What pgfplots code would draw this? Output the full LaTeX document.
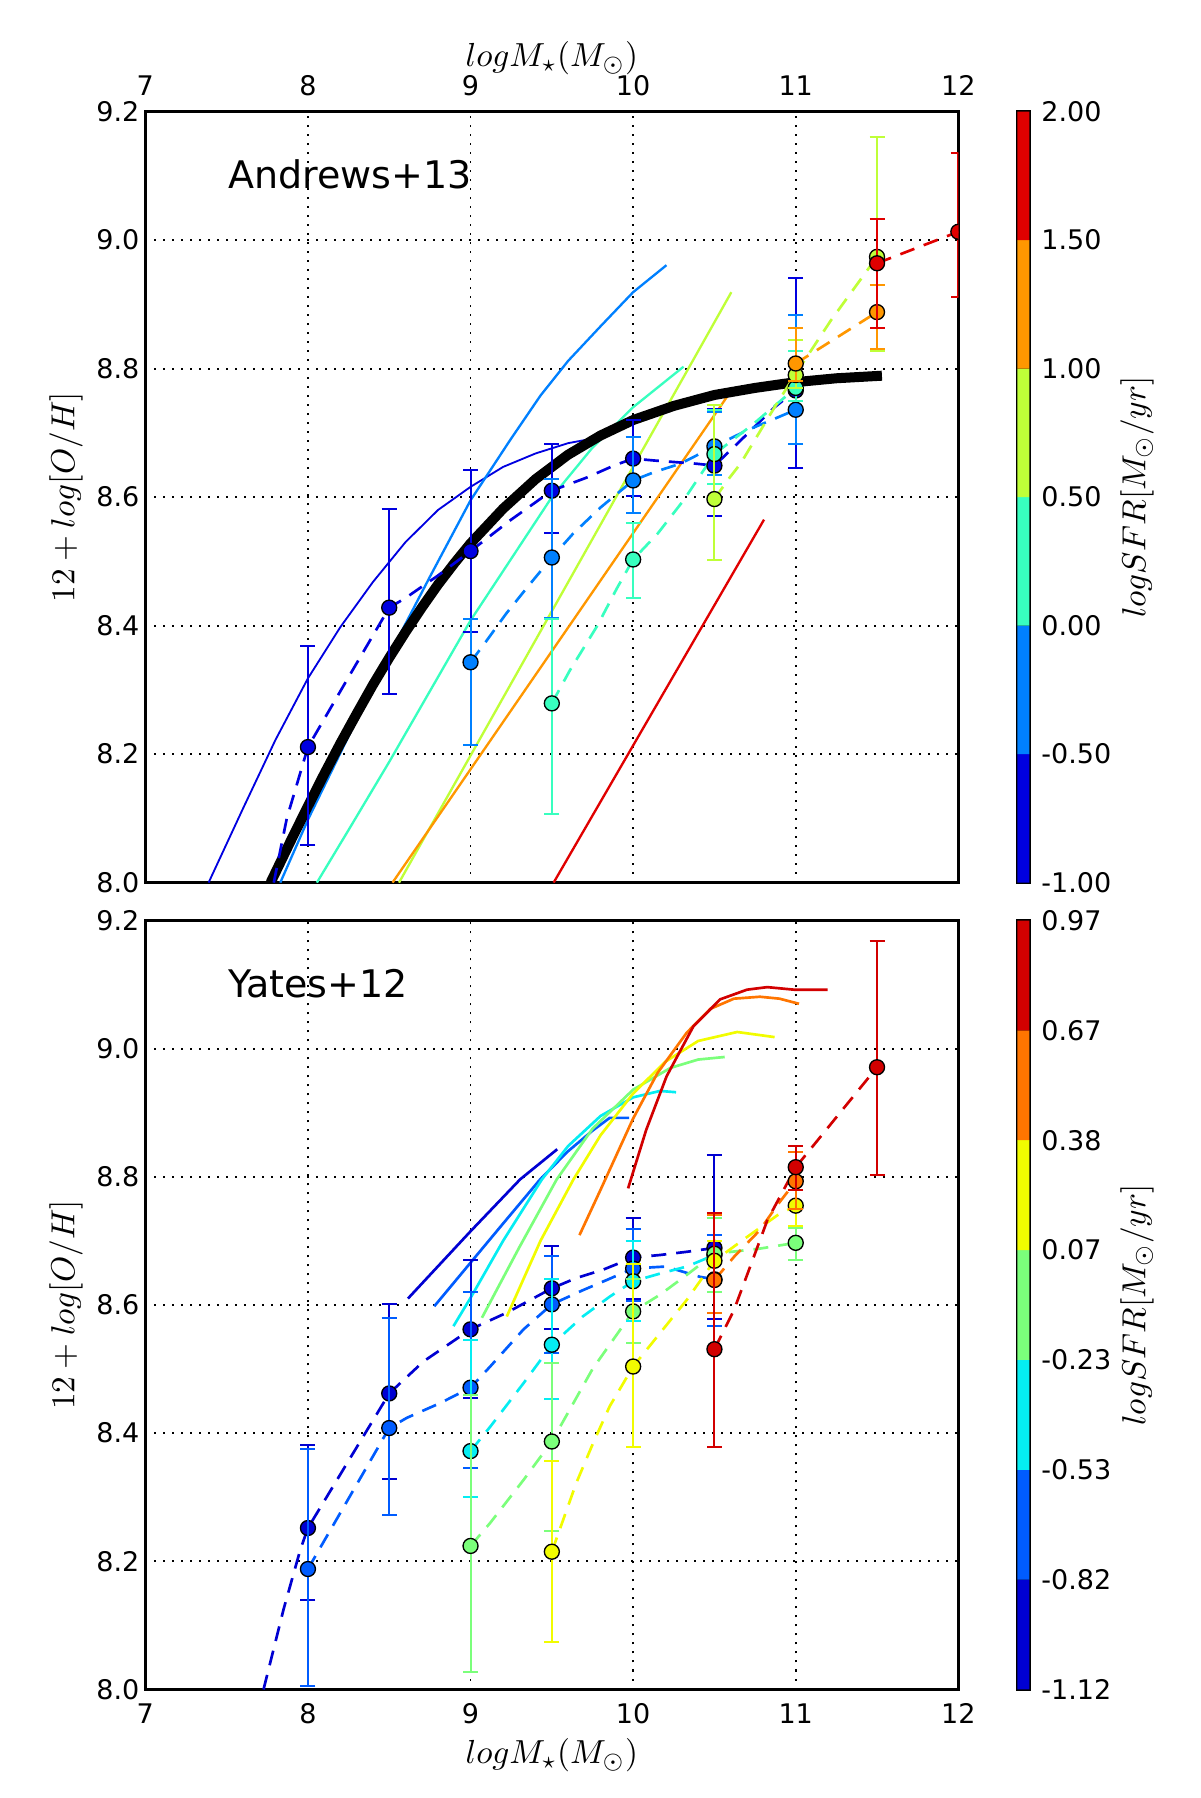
\documentclass[border=0pt]{standalone}
\usepackage[no-math]{fontspec}
\setmainfont{DejaVu Sans}
\usepackage{pgfplots}
\pgfplotsset{compat=1.18}
\definecolor{T1}{RGB}{0,0,224}
\definecolor{T2}{RGB}{0,128,255}
\definecolor{T3}{RGB}{56,255,191}
\definecolor{T4}{RGB}{191,255,56}
\definecolor{T5}{RGB}{255,151,0}
\definecolor{T6}{RGB}{224,0,0}
\definecolor{B1}{RGB}{0,0,210}
\definecolor{B2}{RGB}{0,92,255}
\definecolor{B3}{RGB}{5,237,242}
\definecolor{B4}{RGB}{123,255,123}
\definecolor{B5}{RGB}{241,252,0}
\definecolor{B6}{RGB}{255,117,0}
\definecolor{B7}{RGB}{210,0,0}
\pgfplotsset{
  mainax/.style={
    scale only axis, width=243.9pt,
    xmin=7, xmax=12, ymin=8, ymax=9.2,
    xtick={7,8,9,10,11,12}, ytick={8,8.2,8.4,8.6,8.8,9.0,9.2},
    yticklabel style={/pgf/number format/.cd, fixed, fixed zerofill, precision=1},
    /pgf/number format/assume math mode=true,
    tick label style={font=\fontsize{8.1}{9.7}\selectfont, inner sep=0pt},
    yticklabel shift=1.6pt,
    tick style={draw=none},
    xmajorgrids, ymajorgrids,
    grid style={black, line width=0.55pt, dash pattern=on 0.6pt off 2.1pt},
    axis line style={black, line width=0.75pt},
    clip marker paths=true,
    label style={font=\fontsize{8.8}{10.5}\selectfont},
    every axis y label/.style={at={(axis description cs:-0.0976,0.5)}, rotate=90, anchor=center},
    ylabel={$12+log[O/H]$},
  },
  cbax/.style={
    scale only axis, width=3.6pt,
    xmin=0, xmax=1, xtick=\empty,
    ytick pos=right, yticklabel pos=right,
    /pgf/number format/assume math mode=true,
    tick label style={font=\fontsize{8.1}{9.7}\selectfont, inner sep=0pt},
    yticklabel shift=3.4pt,
    major tick length=3.6pt, tick align=inside,
    tick style={black, line width=0.6pt},
    axis line style={black, line width=0.75pt},
    label style={font=\fontsize{8.8}{10.5}\selectfont},
    every axis y label/.style={at={(axis description cs:9.97,0.5)}, rotate=90, anchor=center},
    ylabel={$logSFR[M_\odot/yr]$},
  },
  sld/.style={#1, line width=0.7pt, no marks, solid},
  dsh/.style={#1, line width=0.8pt, no marks, dash pattern=on 4.5pt off 3pt},
  pts/.style={#1, only marks, mark=*, mark size=2.25pt,
    mark options={fill=#1, draw=black, line width=0.4pt, solid},
    error bars/.cd, y dir=both, y explicit,
    error bar style={#1, line width=0.6pt, solid},
    error mark options={rotate=90, #1, mark size=2.25pt, line width=0.6pt, solid}},
}
\begin{document}
\begin{tikzpicture}
\path[use as bounding box] (0pt,0pt) rectangle (360pt,539.4pt);

% ================= TOP PANEL =================
\begin{axis}[mainax, at={(43.6pt,274.6pt)}, anchor=south west, height=231.3pt,
  xticklabel pos=upper, xticklabel shift=4.5pt,
  every axis x label/.style={at={(axis description cs:0.5,1.0695)}, anchor=center},
  xlabel={$logM_\star(M_\odot)$}]
% model lines
\addplot[sld=T1, line width=0.55pt] coordinates {(7.389,8.0) (7.6,8.115) (7.8,8.222) (8.0,8.318) (8.2,8.398) (8.4,8.468) (8.6,8.53) (8.8,8.58) (9.0,8.616) (9.2,8.647) (9.4,8.668) (9.6,8.684) (9.706,8.689)};
\addplot[sld=T2] coordinates {(7.83,8.0) (8.0,8.098) (8.25,8.228) (8.5,8.354) (8.75,8.476) (9.0,8.595) (9.244,8.689) (9.43,8.758) (9.6,8.812) (9.8,8.866) (10.0,8.919) (10.205,8.961)};
\addplot[sld=T3] coordinates {(8.055,8.0) (8.25,8.082) (8.5,8.188) (9.0,8.408) (9.5,8.6) (9.75,8.677) (10.0,8.74) (10.31,8.803)};
\addplot[sld=T4] coordinates {(8.56,8.0) (9.55,8.445) (10.604,8.919)};
\addplot[sld=T5] coordinates {(8.52,8.0) (10.604,8.766)};
\addplot[sld=T6] coordinates {(9.511,8.0) (10.805,8.565)};
% thick black relation
\addplot[black, line width=3pt, no marks] coordinates {(7.77,8.0) (7.9,8.068) (8.0,8.119) (8.1,8.169) (8.2,8.217) (8.3,8.263) (8.4,8.308) (8.5,8.350) (8.6,8.390) (8.7,8.428) (8.8,8.464) (8.9,8.497) (9.0,8.528) (9.2,8.582) (9.4,8.628) (9.6,8.666) (9.8,8.696) (10.0,8.720) (10.25,8.742) (10.5,8.759) (10.75,8.770) (11.0,8.779) (11.25,8.785) (11.53,8.789)};
% dashed binned relations
\addplot[dsh=T1] coordinates {(7.79,8.0) (7.87,8.10) (8.0,8.211) (8.25,8.32) (8.5,8.428) (8.6,8.443) (8.8,8.478) (9.0,8.516) (9.25,8.565) (9.5,8.61) (9.72,8.631) (9.88,8.649) (10.0,8.66) (10.13,8.657) (10.39,8.652) (10.5,8.649) (10.66,8.688) (10.87,8.74) (11.0,8.766)};
\addplot[dsh=T2] coordinates {(9.0,8.343) (9.1,8.377) (9.22,8.419) (9.35,8.46) (9.5,8.506) (9.63,8.543) (9.8,8.584) (10.0,8.626) (10.13,8.639) (10.29,8.652) (10.5,8.679) (10.7,8.704) (10.87,8.722) (11.0,8.736)};
\addplot[dsh=T3] coordinates {(9.5,8.279) (9.61,8.33) (9.78,8.4) (9.9,8.458) (10.0,8.503) (10.15,8.543) (10.31,8.595) (10.5,8.667) (10.74,8.714) (11.0,8.77)};
\addplot[dsh=T4] coordinates {(10.5,8.597) (10.58,8.626) (10.66,8.652) (10.87,8.74) (11.0,8.792) (11.216,8.875) (11.5,8.974)};
\addplot[dsh=T5] coordinates {(11.0,8.808) (11.5,8.888)};
\addplot[dsh=T6] coordinates {(11.5,8.964) (12.0,9.013)};
% data points
\addplot[pts=T1] coordinates {(8,8.211) += (0,0.157) -= (0,0.153) (8.5,8.428) += (0,0.153) -= (0,0.135) (9,8.516) += (0,0.126) -= (0,0.126) (9.5,8.61) += (0,0.073) -= (0,0.066) (10,8.66) += (0,0.06) -= (0,0.058) (10.5,8.649) += (0,0.088) -= (0,0.078) (11,8.766) += (0,0.175) -= (0,0.121)};
\addplot[pts=T2] coordinates {(9,8.343) += (0,0.067) -= (0,0.129) (9.5,8.506) += (0,0.123) -= (0,0.094) (10,8.626) += (0,0.068) -= (0,0.051) (10.5,8.679) += (0,0.053) -= (0,0.045) (11,8.736) += (0,0.147) -= (0,0.053)};
\addplot[pts=T3] coordinates {(9.5,8.279) += (0,0.131) -= (0,0.172) (10,8.503) += (0,0.057) -= (0,0.06) (10.5,8.667) += (0,0.068) -= (0,0.047) (11,8.77) += (0,0.058) -= (0,0.02)};
\addplot[pts=T4] coordinates {(10.5,8.597) += (0,0.147) -= (0,0.095) (11,8.79) += (0,0.054) -= (0,0.02) (11.5,8.974) += (0,0.186) -= (0,0.146)};
\addplot[pts=T5] coordinates {(11,8.808) += (0,0.056) -= (0,0.028) (11.5,8.888) += (0,0.042) -= (0,0.057)};
\addplot[pts=T6] coordinates {(11.5,8.964) += (0,0.069) -= (0,0.101) (12,9.013) += (0,0.122) -= (0,0.101)};
\node[anchor=base west, inner sep=0pt, font=\fontsize{11.4}{13.7}\selectfont] at (axis cs:7.5055,9.0806) {Andrews+13};
\end{axis}

% top colorbar
\begin{axis}[cbax, at={(305.2pt,274.6pt)}, anchor=south west, height=231.3pt,
  ymin=-1, ymax=2, ytick={-1,-0.5,0,0.5,1,1.5,2},
  yticklabels={-1.00,-0.50,0.00,0.50,1.00,1.50,2.00}]
\addplot[fill=T1, draw=none] coordinates {(0,-1) (1,-1) (1,-0.5) (0,-0.5) (0,-1)};
\addplot[fill=T2, draw=none] coordinates {(0,-0.5) (1,-0.5) (1,0) (0,0) (0,-0.5)};
\addplot[fill=T3, draw=none] coordinates {(0,0) (1,0) (1,0.5) (0,0.5) (0,0)};
\addplot[fill=T4, draw=none] coordinates {(0,0.5) (1,0.5) (1,1) (0,1) (0,0.5)};
\addplot[fill=T5, draw=none] coordinates {(0,1) (1,1) (1,1.5) (0,1.5) (0,1)};
\addplot[fill=T6, draw=none] coordinates {(0,1.5) (1,1.5) (1,2) (0,2) (0,1.5)};
\end{axis}

% ================= BOTTOM PANEL =================
\begin{axis}[mainax, at={(43.6pt,32.55pt)}, anchor=south west, height=230.7pt,
  xticklabel shift=4.05pt,
  every axis x label/.style={at={(axis description cs:0.5,-0.0852)}, anchor=center},
  xlabel={$logM_\star(M_\odot)$}]
% model lines
\addplot[sld=B1, line width=0.8pt] coordinates {(8.615,8.61) (9.0,8.715) (9.305,8.796) (9.533,8.843)};
\addplot[sld=B2, line width=0.8pt] coordinates {(8.777,8.598) (9.0,8.666) (9.2,8.727) (9.428,8.796) (9.6,8.84) (9.75,8.872) (9.856,8.892) (9.975,8.892)};
\addplot[sld=B3, line width=0.8pt] coordinates {(8.895,8.567) (9.0,8.611) (9.2,8.70) (9.439,8.796) (9.6,8.848) (9.8,8.895) (10.0,8.924) (10.165,8.934) (10.264,8.932)};
\addplot[sld=B4, line width=0.8pt] coordinates {(9.07,8.58) (9.3,8.69) (9.53,8.796) (9.75,8.875) (10.0,8.936) (10.23,8.97) (10.4,8.983) (10.563,8.987)};
\addplot[sld=B5, line width=0.8pt] coordinates {(9.223,8.582) (9.43,8.70) (9.633,8.796) (9.8,8.865) (10.0,8.93) (10.2,8.98) (10.4,9.012) (10.64,9.026) (10.87,9.018)};
\addplot[sld=B6, line width=0.8pt] coordinates {(9.67,8.709) (9.8,8.78) (10.0,8.891) (10.15,8.962) (10.33,9.025) (10.474,9.062) (10.62,9.078) (10.78,9.081) (10.9,9.078) (11.02,9.07)};
\addplot[sld=B7, line width=0.8pt] coordinates {(9.969,8.782) (10.08,8.873) (10.206,8.957) (10.371,9.035) (10.536,9.077) (10.70,9.092) (10.825,9.096) (10.99,9.092) (11.196,9.092)};
% dashed binned relations
\addplot[dsh=B1] coordinates {(7.727,8.0) (7.85,8.125) (7.953,8.218) (8.0,8.252) (8.25,8.357) (8.5,8.462) (8.711,8.512) (9.0,8.562) (9.223,8.588) (9.5,8.626) (9.65,8.642) (9.814,8.655) (10.0,8.674) (10.165,8.678) (10.33,8.683) (10.5,8.689)};
\addplot[dsh=B2] coordinates {(8.0,8.188) (8.25,8.298) (8.5,8.408) (8.609,8.424) (8.814,8.447) (9.0,8.471) (9.121,8.504) (9.326,8.562) (9.5,8.601) (9.69,8.623) (9.856,8.641) (10.0,8.657) (10.2,8.66) (10.41,8.644) (10.5,8.64)};
\addplot[dsh=B3] coordinates {(9.0,8.372) (9.121,8.41) (9.326,8.478) (9.5,8.538) (9.69,8.582) (9.856,8.613) (10.0,8.637) (10.165,8.649) (10.33,8.66) (10.5,8.678)};
\addplot[dsh=B4] coordinates {(9.0,8.224) (9.121,8.26) (9.326,8.327) (9.5,8.387) (9.75,8.50) (10.0,8.59) (10.165,8.616) (10.33,8.647) (10.5,8.68) (10.78,8.688) (11.0,8.697)};
\addplot[dsh=B5] coordinates {(9.5,8.215) (9.65,8.322) (9.753,8.384) (9.856,8.442) (10.0,8.504) (10.165,8.556) (10.33,8.608) (10.5,8.669) (10.7,8.706) (10.887,8.74) (11.0,8.755)};
\addplot[dsh=B6] coordinates {(10.5,8.639) (10.62,8.675) (10.78,8.717) (10.887,8.756) (11.0,8.793)};
\addplot[dsh=B7] coordinates {(10.5,8.531) (10.62,8.592) (10.72,8.66) (10.825,8.732) (11.0,8.815) (11.5,8.971)};
% data points
\addplot[pts=B1] coordinates {(8,8.252) += (0,0.129) -= (0,0.113) (8.5,8.462) += (0,0.139) -= (0,0.133) (9,8.562) += (0,0.108) -= (0,0.107) (9.5,8.626) += (0,0.066) -= (0,0.063) (10,8.674) += (0,0.061) -= (0,0.064) (10.5,8.689) += (0,0.145) -= (0,0.111)};
\addplot[pts=B2] coordinates {(8,8.188) += (0,0.187) -= (0,0.183) (8.5,8.408) += (0,0.172) -= (0,0.136) (9,8.471) += (0,0.149) -= (0,0.125) (9.5,8.601) += (0,0.076) -= (0,0.076) (10,8.657) += (0,0.062) -= (0,0.051) (10.5,8.64) += (0,0.069) -= (0,0.073)};
\addplot[pts=B3] coordinates {(9,8.372) += (0,0.174) -= (0,0.072) (9.5,8.538) += (0,0.102) -= (0,0.084) (10,8.637) += (0,0.063) -= (0,0.062) (10.5,8.678) += (0,0.057) -= (0,0.058)};
\addplot[pts=B4] coordinates {(9,8.224) += (0,0.236) -= (0,0.196) (9.5,8.387) += (0,0.122) -= (0,0.139) (10,8.59) += (0,0.05) -= (0,0.049) (10.5,8.68) += (0,0.055) -= (0,0.06) (11,8.697) += (0,0.023) -= (0,0.027)};
\addplot[pts=B5] coordinates {(9.5,8.215) += (0,0.141) -= (0,0.141) (10,8.504) += (0,0.16) -= (0,0.125) (10.5,8.669) += (0,0.031) -= (0,0.029) (11,8.755) += (0,0.035) -= (0,0.031)};
\addplot[pts=B6] coordinates {(10.5,8.639) += (0,0.101) -= (0,0.051) (11,8.793) += (0,0.045) -= (0,0.043)};
\addplot[pts=B7] coordinates {(10.5,8.531) += (0,0.213) -= (0,0.153) (11,8.815) += (0,0.033) -= (0,0.035) (11.5,8.971) += (0,0.197) -= (0,0.168)};
\node[anchor=base west, inner sep=0pt, font=\fontsize{11.4}{13.7}\selectfont] at (axis cs:7.5055,9.080) {Yates+12};
\end{axis}

% bottom colorbar
\begin{axis}[cbax, at={(305.2pt,32.55pt)}, anchor=south west, height=230.7pt,
  ymin=0, ymax=7, ytick={0,1,2,3,4,5,6,7},
  yticklabels={-1.12,-0.82,-0.53,-0.23,0.07,0.38,0.67,0.97}]
\addplot[fill=B1, draw=none] coordinates {(0,0) (1,0) (1,1) (0,1) (0,0)};
\addplot[fill=B2, draw=none] coordinates {(0,1) (1,1) (1,2) (0,2) (0,1)};
\addplot[fill=B3, draw=none] coordinates {(0,2) (1,2) (1,3) (0,3) (0,2)};
\addplot[fill=B4, draw=none] coordinates {(0,3) (1,3) (1,4) (0,4) (0,3)};
\addplot[fill=B5, draw=none] coordinates {(0,4) (1,4) (1,5) (0,5) (0,4)};
\addplot[fill=B6, draw=none] coordinates {(0,5) (1,5) (1,6) (0,6) (0,5)};
\addplot[fill=B7, draw=none] coordinates {(0,6) (1,6) (1,7) (0,7) (0,6)};
\end{axis}
\end{tikzpicture}
\end{document}
